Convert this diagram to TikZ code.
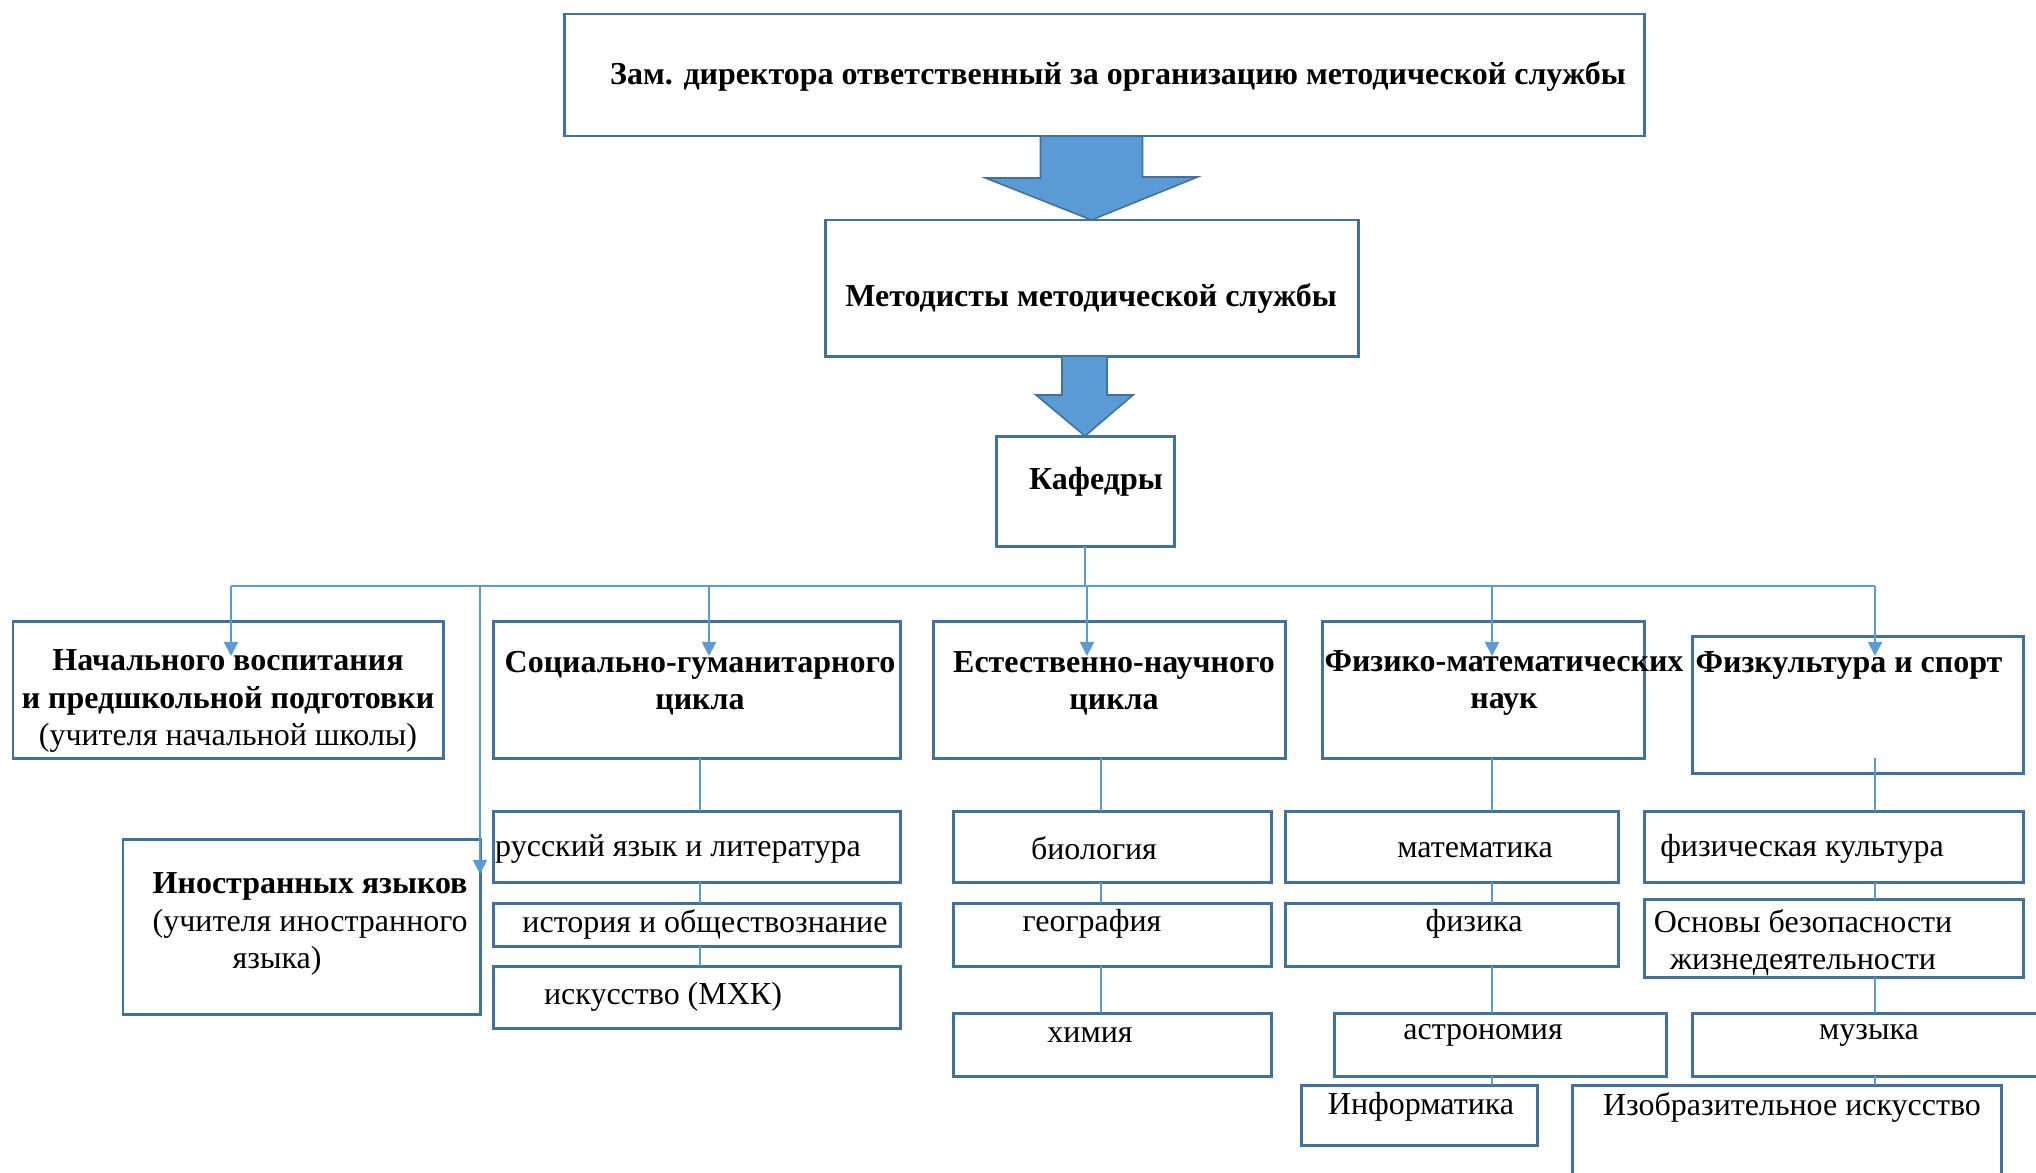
\documentclass[tikz,border=0pt]{standalone}
\usepackage{fontspec}
\setmainfont{Liberation Serif}
\usetikzlibrary{arrows.meta}
\definecolor{boxc}{RGB}{65,113,156}
\definecolor{linkc}{RGB}{91,155,213}

\begin{document}
\begin{tikzpicture}
  [box/.style={draw=boxc,line width=0.85pt,inner sep=0,outer sep=0},
   lbl/.style={font=\fontsize{9.1}{10.6}\selectfont,inner sep=0,align=center},
   hd/.style={lbl,font=\fontsize{9.1}{10.6}\selectfont\bfseries},
   link/.style={draw=linkc,line width=0.55pt},
   arr/.style={link,-{Triangle[width=4pt,length=4pt]}},
   blk/.style={fill=linkc,draw=boxc,line width=0.45pt}]
  \useasboundingbox (0,0) rectangle (20.36,-11.72);
  \clip (0,0) rectangle (20.36,-11.72);

  \node[box,minimum width=10.80cm,minimum height=1.22cm] (zam) at (11.04,-0.75) {};
  \node[box,minimum width=5.33cm,minimum height=1.36cm] (met) at (10.915,-2.88) {};
  \node[box,minimum width=1.78cm,minimum height=1.10cm] (kaf) at (10.85,-4.91) {};

  \node[box,minimum width=4.30cm,minimum height=1.37cm] (nach) at (2.28,-6.895) {};
  \node[box,minimum width=4.07cm,minimum height=1.37cm] (soc) at (6.965,-6.895) {};
  \node[box,minimum width=3.52cm,minimum height=1.37cm] (est) at (11.09,-6.895) {};
  \node[box,minimum width=3.22cm,minimum height=1.37cm] (fm) at (14.83,-6.895) {};
  \node[box,minimum width=3.31cm,minimum height=1.37cm] (fk) at (18.575,-7.045) {};
  \node[box,minimum width=3.57cm,minimum height=1.75cm] (ino) at (3.015,-9.265) {};

  \node[box,minimum width=4.07cm,minimum height=0.71cm] (rus) at (6.965,-8.465) {};
  \node[box,minimum width=4.07cm,minimum height=0.43cm] (ist) at (6.965,-9.245) {};
  \node[box,minimum width=4.07cm,minimum height=0.62cm] (isk) at (6.965,-9.97) {};

  \node[box,minimum width=3.18cm,minimum height=0.71cm] (bio) at (11.12,-8.465) {};
  \node[box,minimum width=3.18cm,minimum height=0.63cm] (geo) at (11.12,-9.345) {};
  \node[box,minimum width=3.18cm,minimum height=0.63cm] (him) at (11.12,-10.445) {};

  \node[box,minimum width=3.33cm,minimum height=0.71cm] (mat) at (14.515,-8.465) {};
  \node[box,minimum width=3.33cm,minimum height=0.63cm] (fiz) at (14.515,-9.345) {};
  \node[box,minimum width=3.32cm,minimum height=0.63cm] (ast) at (15.0,-10.445) {};
  \node[box,minimum width=2.36cm,minimum height=0.60cm] (inf) at (14.19,-11.15) {};

  \node[box,minimum width=3.79cm,minimum height=0.71cm] (fkul) at (18.335,-8.465) {};
  \node[box,minimum width=3.79cm,minimum height=0.78cm] (obzh) at (18.335,-9.38) {};
  \node[box,minimum width=3.58cm,minimum height=0.63cm] (muz) at (18.71,-10.445) {};
  \node[box,minimum width=4.29cm,minimum height=1.30cm] (izo) at (17.865,-11.50) {};

  \node[hd] (tzam) at (11.18,-0.77) {Зам. директора ответственный за организацию методической службы};
  \node[hd] (tmet) at (10.91,-2.98) {Методисты методической службы};
  \node[hd] (tkaf) at (10.96,-4.82) {Кафедры};
  \node[lbl] (tnach) at (2.28,-7.01) {\textbf{Начального воспитания}\\\textbf{и предшкольной подготовки}\\(учителя начальной школы)};
  \node[hd] (tsoc) at (7.0,-6.83) {Социально-гуманитарного\\цикла};
  \node[hd] (test) at (11.14,-6.83) {Естественно-научного\\цикла};
  \node[hd] (tfm) at (15.04,-6.83) {Физико-математических\\наук};
  \node[hd] (tfk) at (18.49,-6.65) {Физкультура и спорт};
  \node[lbl,align=left,anchor=west] (tino) at (1.52,-9.24) {\textbf{Иностранных языков}\\(учителя иностранного\\\hspace*{0.80cm}языка)};

  \node[lbl] (trus) at (6.78,-8.49) {русский язык и литература};
  \node[lbl] (tist) at (7.05,-9.24) {история и обществознание};
  \node[lbl] (tisk) at (6.63,-9.97) {искусство (МХК)};
  \node[lbl] (tbio) at (10.94,-8.48) {биология};
  \node[lbl] (tgeo) at (10.92,-9.24) {география};
  \node[lbl] (thim) at (10.90,-10.35) {химия};
  \node[lbl] (tmat) at (14.75,-8.50) {математика};
  \node[lbl] (tfiz) at (14.74,-9.24) {физика};
  \node[lbl] (tast) at (14.83,-10.35) {астрономия};
  \node[lbl] (tinf) at (14.21,-11.07) {Информатика};
  \node[lbl] (tfkul) at (18.02,-8.49) {физическая культура};
  \node[lbl] (tobzh) at (18.03,-9.425) {Основы безопасности\\жизнедеятельности};
  \node[lbl] (tmuz) at (18.69,-10.35) {музыка};
  \node[lbl] (tizo) at (17.92,-11.07) {Изобразительное искусство};

  \filldraw[blk] (met.north) -- ++(-1.06,0.42) -- ++(0.55,0) |- ([xshift=0.51cm]met.north |- zam.south) -- ++(0,-0.41) -- ++(0.55,0) -- cycle;
  \filldraw[blk] (kaf.north) -- ++(-0.49,0.41) -- ++(0.26,0) |- ([xshift=0.22cm]kaf.north |- met.south) -- ++(0,-0.39) -- ++(0.26,0) -- cycle;

  \coordinate (b1) at (2.31,-5.86);
  \coordinate (b2) at (4.80,-5.86);
  \coordinate (b3) at (7.09,-5.86);
  \coordinate (b4) at (10.87,-5.86);
  \coordinate (b5) at (14.92,-5.86);
  \coordinate (b6) at (18.75,-5.86);
  \coordinate (xs) at (7.00,0);
  \coordinate (xe) at (11.01,0);
  \coordinate (xf) at (14.92,0);
  \coordinate (xk) at (18.75,0);

  \draw[link] (kaf.south) -- (kaf.south |- b1);
  \draw[link] (b1) -- (b6);
  \foreach \c in {b1,b3,b4,b5,b6}
    \draw[arr] (\c) -- ([yshift=-3.5mm]\c |- soc.north);
  \draw[arr] (b2) -- ([yshift=-3.5mm]ino.north east);

  \foreach \x/\from/\to in {xs/soc/rus,xs/rus/ist,xs/ist/isk,
                            xe/est/bio,xe/bio/geo,xe/geo/him,
                            xf/fm/mat,xf/mat/fiz,xf/fiz/ast,xf/ast/inf,
                            xk/fkul/obzh,xk/obzh/muz,xk/muz/izo}
    \draw[link] (\x |- \from.south) -- (\x |- \to.north);
  \draw[link] ([yshift=1.5mm]xk |- fk.south) -- (xk |- fkul.north);

\end{tikzpicture}
\end{document}
